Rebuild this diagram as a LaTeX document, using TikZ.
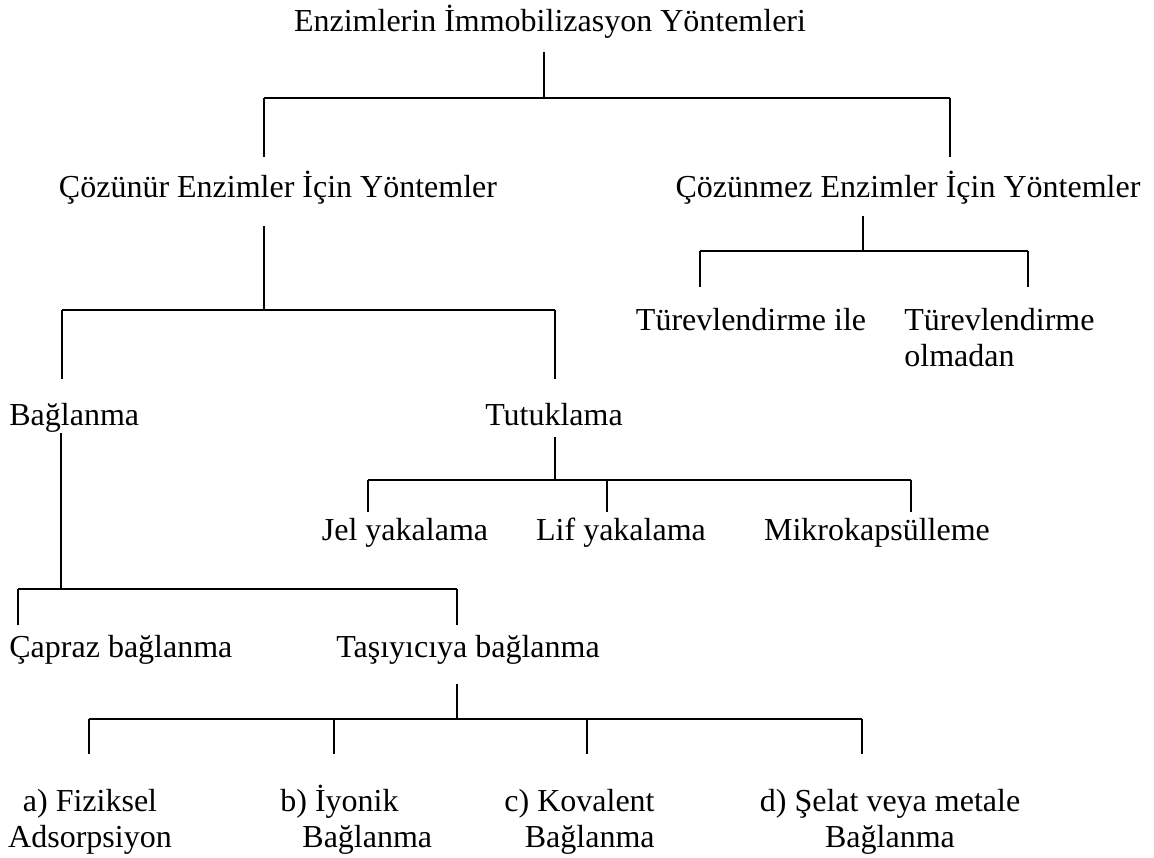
\documentclass[tikz,border=0pt]{standalone}
\usepackage{fontspec}
\setmainfont{Liberation Serif}
\begin{document}
\begin{tikzpicture}[x=0.5pt,y=-0.5pt,font=\fontsize{16}{18}\selectfont,
  yazi/.style={anchor=base,inner sep=0pt},
  dal/.style={line width=0.55pt},
  kol/.style={line width=0.9pt}]
\useasboundingbox (0,0) rectangle (1154,857);
% metinler
\node[yazi] (kok) at (550,31) {Enzimlerin İmmobilizasyon Yöntemleri};
\node[yazi] (cozunur) at (278,197) {Çözünür Enzimler İçin Yöntemler};
\node[yazi] (cozunmez) at (908,197) {Çözünmez Enzimler İçin Yöntemler};
\node[yazi] (turile) at (751,330) {Türevlendirme ile};
\node[yazi,anchor=base west,align=left] (turolm) at (904,366) {Türevlendirme\\olmadan};
\node[yazi,anchor=base west] (baglanma) at (9,425) {Bağlanma};
\node[yazi] (tutuklama) at (554,425) {Tutuklama};
\node[yazi] (jel) at (405,540) {Jel yakalama};
\node[yazi] (lif) at (621,540) {Lif yakalama};
\node[yazi] (mikro) at (877,540) {Mikrokapsülleme};
\node[yazi,anchor=base west] (capraz) at (9,657) {Çapraz bağlanma};
\node[yazi] (tasiyici) at (468,657) {Taşıyıcıya bağlanma};
\node[yazi,align=center] (fiz) at (90,847) {a) Fiziksel\\Adsorpsiyon};
\node[yazi,anchor=base west,align=left] (iyo) at (280,847) {b) İyonik\\\hspace*{11pt}Bağlanma};
\node[yazi,anchor=base east,align=right] (kov) at (655,847) {c) Kovalent\\Bağlanma};
\node[yazi,align=center] (sel) at (890,847) {d) Şelat veya metale\\Bağlanma};
% kök -> yöntemler
\coordinate (k0) at (544,52);
\coordinate (k1) at (544,98);
\coordinate (k2) at (264,98);
\coordinate (k3) at (950,98);
\draw[dal] (k0) -- (k1);
\draw[kol] (k2) -- (k3);
\foreach \c in {k2,k3}
  \draw[dal] (\c) -- ++(0,59);
% çözünmez
\coordinate (m0) at (863,216);
\coordinate (m1) at (863,251);
\coordinate (m2) at (700,251);
\coordinate (m3) at (1028,251);
\draw[dal] (m0) -- (m1);
\draw[kol] (m2) -- (m3);
\foreach \c in {m2,m3}
  \draw[dal] (\c) -- ++(0,36);
% çözünür
\coordinate (c0) at (264,226);
\coordinate (c1) at (264,310);
\coordinate (c2) at (62,310);
\coordinate (c3) at (555,310);
\draw[dal] (c0) -- (c1);
\draw[kol] (c2) -- (c3);
\foreach \c in {c2,c3}
  \draw[dal] (\c) -- ++(0,69);
% tutuklama
\coordinate (t0) at (555,437);
\coordinate (t1) at (555,480);
\coordinate (t2) at (368,480);
\coordinate (t3) at (607,480);
\coordinate (t4) at (911,480);
\draw[dal] (t0) -- (t1);
\draw[kol] (t2) -- (t4);
\foreach \c in {t2,t3,t4}
  \draw[dal] (\c) -- ++(0,32);
% bağlanma
\coordinate (b0) at (61,433);
\coordinate (b1) at (61,589);
\coordinate (b2) at (18,589);
\coordinate (b3) at (457,589);
\draw[dal] (b0) -- (b1);
\draw[kol] (b2) -- (b3);
\foreach \c in {b2,b3}
  \draw[dal] (\c) -- ++(0,36);
% taşıyıcıya bağlanma
\coordinate (s0) at (457,684);
\coordinate (s1) at (457,719);
\coordinate (s2) at (89,719);
\coordinate (s3) at (334,719);
\coordinate (s4) at (587,719);
\coordinate (s5) at (862,719);
\draw[dal] (s0) -- (s1);
\draw[kol] (s2) -- (s5);
\foreach \c in {s2,s3,s4,s5}
  \draw[dal] (\c) -- ++(0,35);
\end{tikzpicture}
\end{document}
